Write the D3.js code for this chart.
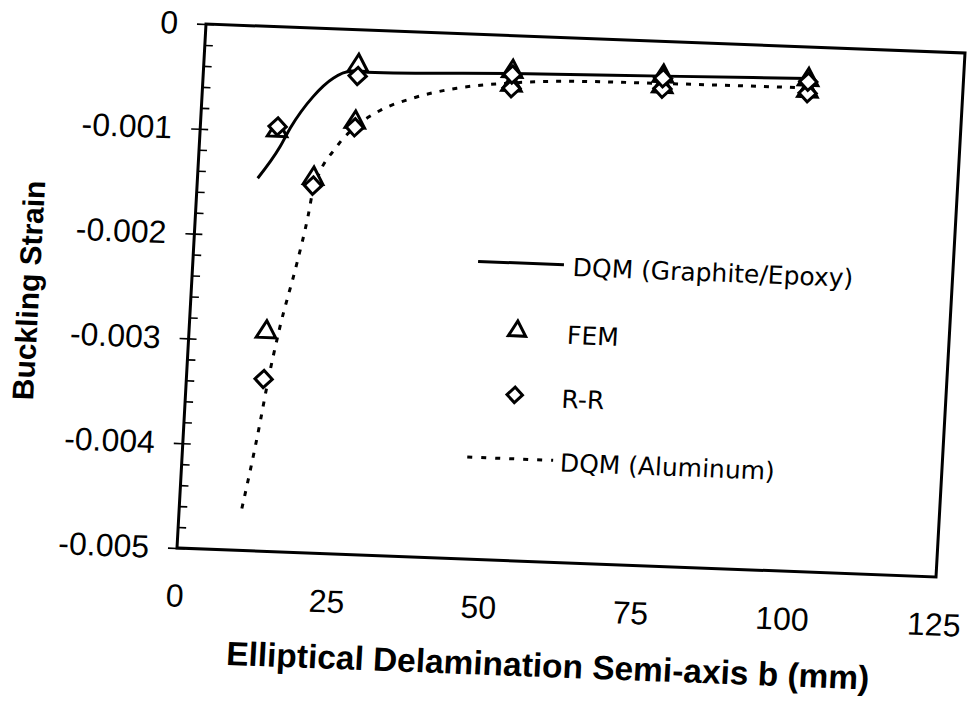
<!DOCTYPE html>
<html>
<head>
<meta charset="utf-8">
<script src="https://cdn.jsdelivr.net/npm/d3@7/dist/d3.min.js"></script>
<style>
  html, body { margin: 0; padding: 0; background: #fff; }
  svg { display: block; }
</style>
</head>
<body>
<svg id="chart" width="967" height="703"></svg>
<script>
// ---------------- data ----------------
const xTickValues = [0, 25, 50, 75, 100, 125];
const yMajorTicks = [0, -0.001, -0.002, -0.003, -0.004, -0.005];
const yMinorTicks = [0, -0.0002, -0.0004, -0.0006, -0.0008, -0.001, -0.0012, -0.0014, -0.0016, -0.0018,
  -0.002, -0.0022, -0.0024, -0.0026, -0.0028, -0.003, -0.0032, -0.0034, -0.0036, -0.0038,
  -0.004, -0.0042, -0.0044, -0.0046, -0.0048, -0.005];

// DQM (Graphite/Epoxy) curve
const dqmGraphiteX = [9.9, 13.3, 14.8, 18.3, 21.4, 24.1, 26.9, 50.8, 75.6, 99.5];
const dqmGraphiteY = [-0.00145, -0.00114, -0.00096, -0.00065, -0.00047, -0.0004, -0.0004, -0.00036, -0.00033, -0.0003];

// DQM (Aluminum) curve
const dqmAluminumX = [10.3, 12.5, 13.3, 14.9, 17.1, 18.5, 19.1, 22.6, 25.4, 29.4, 34.7, 41.8, 50.8, 62, 75.6, 99.5];
const dqmAluminumY = [-0.0046, -0.00378, -0.00343, -0.00286, -0.00225, -0.0018, -0.00155, -0.00112, -0.00093, -0.00076, -0.00063, -0.00052, -0.00045, -0.00041, -0.0004, -0.00039];

// FEM and R-R results
const graphiteX = [12.7, 25.4, 50.8, 75.6, 99.5];
const graphiteFEM = [-0.00099, -0.00034, -0.00034, -0.00033, -0.00031];
const graphiteRR = [-0.00095, -0.00044, -0.00037, -0.00035, -0.00033];
const aluminumX = [12.7, 19.05, 25.4, 50.8, 75.6, 99.5];
const aluminumFEM = [-0.00291, -0.00143, -0.00088, -0.00047, -0.00043, -0.00042];
const aluminumRR = [-0.00336, -0.0015, -0.00093, -0.0005, -0.00045, -0.00044];

const legendLabels = ["DQM (Graphite/Epoxy)", "FEM", "R-R", "DQM (Aluminum)"];
const xTitle = "Elliptical Delamination Semi-axis b (mm)";
const yTitle = "Buckling Strain";

// ---------------- layout ----------------
const L = 206, T = 24, W = 760, H = 525;
const svg = d3.select("#chart");
svg.append("rect").attr("width", 967).attr("height", 703).attr("fill", "#fff");

// the scanned figure is slightly skewed/rotated
const g = svg.append("g")
  .attr("transform", "matrix(0.99868,0.03816,-0.05524,0.99810,1.598,-7.815)");

const x = d3.scaleLinear().domain([0, 125]).range([L, L + W]);
const y = d3.scaleLinear().domain([-0.005, 0]).range([T + H, T]);

const tickFont = "'Liberation Sans', Arial, Helvetica, sans-serif";

// y axis: major ticks outside with labels
const yAxisMajor = d3.axisLeft(y).tickValues(yMajorTicks).tickSize(9).tickPadding(19)
  .tickFormat(d => d === 0 ? "0" : d.toFixed(3));
const gy = g.append("g").attr("transform", `translate(${L},0)`).call(yAxisMajor);
gy.select(".domain").remove();
gy.selectAll("line").attr("stroke", "#000").attr("stroke-width", 1.6);
gy.selectAll("text").attr("font-family", tickFont).attr("font-size", 32).attr("fill", "#000");

// y axis: minor ticks inside
const yAxisMinor = d3.axisRight(y).tickValues(yMinorTicks).tickSize(8).tickFormat("");
const gym = g.append("g").attr("transform", `translate(${L},0)`).call(yAxisMinor);
gym.select(".domain").remove();
gym.selectAll("line").attr("stroke", "#000").attr("stroke-width", 1.6);

// x axis: labels only
const xAxis = d3.axisBottom(x).tickValues(xTickValues).tickSize(0).tickPadding(36).tickFormat(d3.format("d"));
const gx = g.append("g").attr("transform", `translate(0,${T + H})`).call(xAxis);
gx.select(".domain").remove();
gx.selectAll("text").attr("font-family", tickFont).attr("font-size", 32).attr("fill", "#000");

// frame
g.append("rect").attr("x", L).attr("y", T).attr("width", W).attr("height", H)
  .attr("fill", "none").attr("stroke", "#000").attr("stroke-width", 3);

// lines
const line = d3.line().x(d => x(d[0])).y(d => y(d[1])).curve(d3.curveMonotoneX);
g.append("path").datum(dqmAluminumX.map((v, i) => [v, dqmAluminumY[i]]))
  .attr("d", line).attr("fill", "none").attr("stroke", "#000")
  .attr("stroke-width", 3).attr("stroke-dasharray", "5,8");
g.append("path").datum(dqmGraphiteX.map((v, i) => [v, dqmGraphiteY[i]]))
  .attr("d", line).attr("fill", "none").attr("stroke", "#000").attr("stroke-width", 3);

// markers
const tri = d3.symbol().type(d3.symbolTriangle).size(165);
const dia = d3.symbol().type(d3.symbolSquare).size(150);
function drawTri(xs, ys) {
  g.append("g").selectAll("path").data(xs.map((v, i) => [v, ys[i]])).join("path")
    .attr("d", tri).attr("transform", d => `translate(${x(d[0])},${y(d[1])})`)
    .attr("fill", "#fff").attr("stroke", "#000").attr("stroke-width", 3);
}
function drawDia(xs, ys) {
  g.append("g").selectAll("path").data(xs.map((v, i) => [v, ys[i]])).join("path")
    .attr("d", dia).attr("transform", d => `translate(${x(d[0])},${y(d[1])}) rotate(45)`)
    .attr("fill", "#fff").attr("stroke", "#000").attr("stroke-width", 3);
}
drawTri(aluminumX, aluminumFEM);
drawDia(aluminumX, aluminumRR);
drawTri(graphiteX, graphiteFEM);
drawDia(graphiteX, graphiteRR);

// legend
const legFont = "'DejaVu Sans', Verdana, sans-serif";
const lg = g.append("g");
const rows = [251, 319, 383, 447];
lg.append("line").attr("x1", 491).attr("x2", 577).attr("y1", rows[0]).attr("y2", rows[0])
  .attr("stroke", "#000").attr("stroke-width", 3);
lg.append("path").attr("d", d3.symbol().type(d3.symbolTriangle).size(130)).attr("transform", `translate(534,${rows[1]})`)
  .attr("fill", "#fff").attr("stroke", "#000").attr("stroke-width", 3);
lg.append("path").attr("d", d3.symbol().type(d3.symbolSquare).size(120)).attr("transform", `translate(535,${rows[2]}) rotate(45)`)
  .attr("fill", "#fff").attr("stroke", "#000").attr("stroke-width", 3);
lg.append("line").attr("x1", 491).attr("x2", 577).attr("y1", rows[3]).attr("y2", rows[3])
  .attr("stroke", "#000").attr("stroke-width", 3).attr("stroke-dasharray", "5,9");
const textX = [586, 584, 582, 584];
lg.selectAll("text").data(legendLabels).join("text")
  .attr("x", (d, i) => textX[i]).attr("y", (d, i) => rows[i] + 11)
  .attr("font-family", legFont).attr("font-size", 25).attr("fill", "#000")
  .text(d => d);

// titles
g.append("text").attr("x", 583).attr("y", 664).attr("text-anchor", "middle")
  .attr("font-family", tickFont).attr("font-weight", "bold").attr("font-size", 33.5)
  .attr("fill", "#000").text(xTitle);
g.append("text").attr("transform", "translate(54,297) rotate(-90)").attr("text-anchor", "middle")
  .attr("font-family", tickFont).attr("font-weight", "bold").attr("font-size", 30)
  .attr("fill", "#000").text(yTitle);
</script>
</body>
</html>
